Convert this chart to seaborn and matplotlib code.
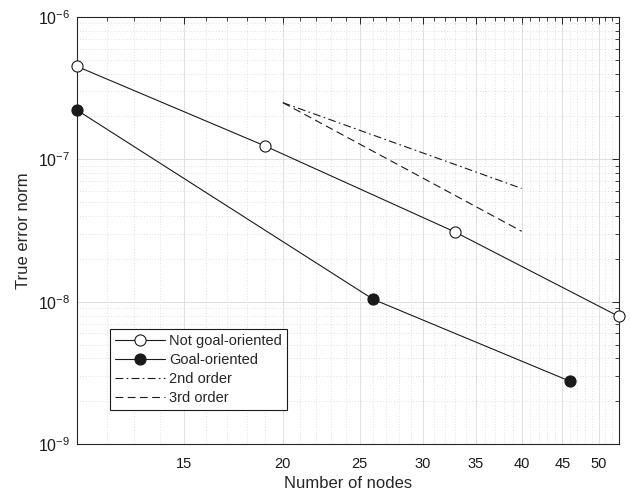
import numpy as np
import pandas as pd
import matplotlib
matplotlib.use("Agg")
import matplotlib.pyplot as plt
import matplotlib.ticker as mticker
import seaborn as sns

# data
nodes_plain = [11, 19, 33, 53]
err_plain = [4.5e-7, 1.24e-7, 3.08e-8, 7.9e-9]
nodes_goal = [11, 26, 46]
err_goal = [2.22e-7, 1.04e-8, 2.77e-9]
ref_nodes = [20, 40]
ref_2nd = [2.5e-7, 2.5e-7 / 4]
ref_3rd = [2.5e-7, 2.5e-7 / 8]
x_ticks = [15, 20, 25, 30, 35, 40, 45, 50]

sns.set_theme(style="white")
plt.rcParams['font.family'] = ['Liberation Sans', 'DejaVu Sans']
plt.rcParams['mathtext.default'] = 'regular'

fig = plt.figure(figsize=(6.3, 4.98), dpi=100)
ax = fig.add_axes([0.122, 0.108, 0.86, 0.858])

df_plain = pd.DataFrame({"nodes": nodes_plain, "err": err_plain})
df_goal = pd.DataFrame({"nodes": nodes_goal, "err": err_goal})

sns.lineplot(data=df_plain, x="nodes", y="err", ax=ax, color="k", lw=0.8,
             marker="o", markersize=8, markerfacecolor="white",
             markeredgecolor="k", markeredgewidth=0.8, label="Not goal-oriented",
             clip_on=False, zorder=5)
sns.lineplot(data=df_goal, x="nodes", y="err", ax=ax, color="k", lw=0.8,
             marker="o", markersize=8, markerfacecolor="k",
             markeredgecolor="k", markeredgewidth=0.8, label="Goal-oriented",
             clip_on=False, zorder=5)
sns.lineplot(x=ref_nodes, y=ref_2nd, ax=ax, color="k", lw=0.8,
             linestyle=(0, (7, 3, 1.5, 3)), label="2nd order")
sns.lineplot(x=ref_nodes, y=ref_3rd, ax=ax, color="k", lw=0.8,
             linestyle=(0, (7, 4)), label="3rd order")

ax.set_xscale("log")
ax.set_yscale("log")
ax.set_xlim(11, 53)
ax.set_ylim(1e-9, 1e-6)

ax.xaxis.set_major_locator(mticker.FixedLocator(x_ticks))
ax.xaxis.set_major_formatter(mticker.FixedFormatter([str(t) for t in x_ticks]))
ax.xaxis.set_minor_locator(mticker.FixedLocator(np.arange(11, 54)))
ax.xaxis.set_minor_formatter(mticker.NullFormatter())
ax.yaxis.set_major_locator(mticker.LogLocator(base=10))
ax.yaxis.set_minor_locator(mticker.LogLocator(base=10, subs=np.arange(2, 10)))
ax.yaxis.set_minor_formatter(mticker.NullFormatter())

ax.grid(True, which="major", color="0.88", lw=0.7, ls="-")
ax.grid(True, which="minor", color="0.78", lw=0.5, ls=(0, (1, 3)))
ax.set_axisbelow(True)

ax.tick_params(which="both", direction="in", top=True, right=True,
               colors="0.15", labelcolor="k")
ax.tick_params(which="minor", labelbottom=False, labelleft=False)
ax.tick_params(axis="x", labelsize=10.5, pad=9)
ax.tick_params(axis="y", labelsize=11.5, pad=5)
ax.tick_params(which="major", length=5, width=0.7)
ax.tick_params(which="minor", length=3, width=0.6)
for s in ax.spines.values():
    s.set_color("0.15")
    s.set_linewidth(0.8)

ax.set_xlabel("Number of nodes", fontsize=12, labelpad=4)
ax.set_ylabel("True error norm", fontsize=12, labelpad=5)

leg = ax.legend(loc="lower left", bbox_to_anchor=(0.061, 0.08), fontsize=10.5,
                handlelength=3.4, labelspacing=0.35, borderpad=0.35,
                handletextpad=0.3, borderaxespad=0, fancybox=False,
                framealpha=1)
leg.get_frame().set_edgecolor("k")
leg.get_frame().set_linewidth(0.8)

fig.savefig("out.png", dpi=100)
